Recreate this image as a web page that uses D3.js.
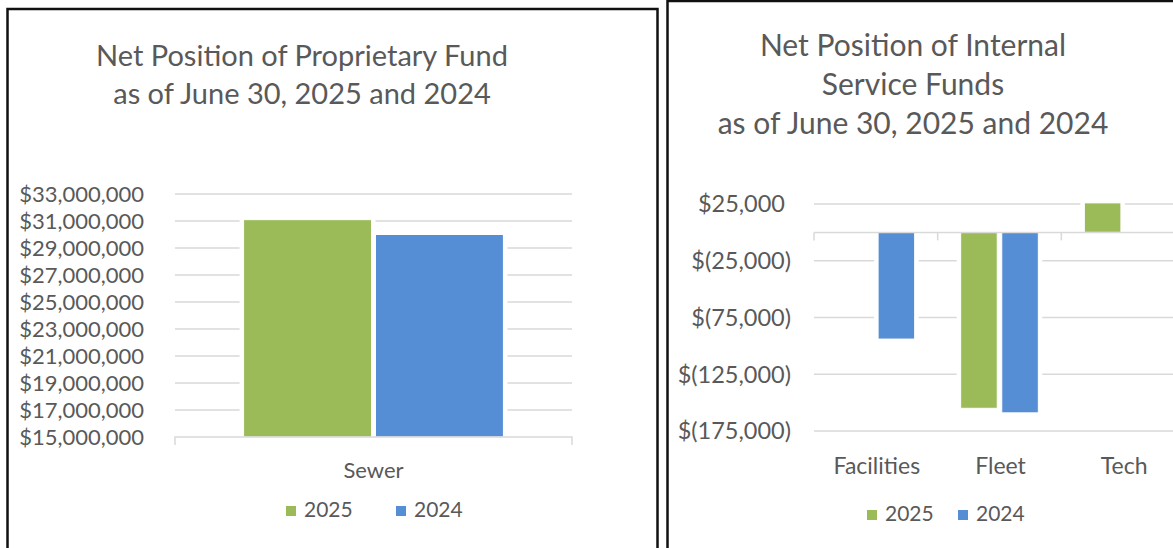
<!DOCTYPE html>
<html>
<head>
<meta charset="utf-8">
<script src="https://cdn.jsdelivr.net/npm/d3@7"></script>
<style>
  body { margin: 0; background: #fff; }
  svg { display: block; }
  text { font-family: Lato, "Open Sans", sans-serif; fill: #595959; }
  .grid { stroke: #d9d9d9; stroke-width: 1.5; }
  .axis-line { stroke: #d9d9d9; stroke-width: 1.5; fill: none; }
</style>
</head>
<body>
<div id="chart"></div>
<script>
/* DATA */
var seriesNames = ["2025", "2024"];

var sewerCategories = ["Sewer"];
var sewer2025 = [31100000];
var sewer2024 = [30000000];
var sewerTicks = [15000000, 17000000, 19000000, 21000000, 23000000, 25000000, 27000000, 29000000, 31000000, 33000000];

var isfCategories = ["Facilities", "Fleet", "Tech"];
var isf2025 = [0, -155000, 26000];
var isf2024 = [-94000, -159000, 0];
var isfTicks = [25000, -25000, -75000, -125000, -175000];

var colors = {"2025": "#9bbb59", "2024": "#558ed5"};

var svg = d3.select("#chart").append("svg")
    .attr("width", 1173)
    .attr("height", 548);

// chart borders
svg.append("rect")
    .attr("x", 7.5).attr("y", 9).attr("width", 650).attr("height", 560)
    .attr("fill", "none").attr("stroke", "#111").attr("stroke-width", 2.5);
svg.append("rect")
    .attr("x", 667.5).attr("y", 1).attr("width", 560).attr("height", 570)
    .attr("fill", "none").attr("stroke", "#111").attr("stroke-width", 2.5);

function rows(cats, a, b){
  return cats.map(function(c, i){
    return {cat: c, values: [{key: "2025", v: a[i]}, {key: "2024", v: b[i]}]};
  });
}

function title(lines, cx, baselines, size){
  lines.forEach(function(t, i){
    svg.append("text")
        .attr("x", cx).attr("y", baselines[i])
        .attr("text-anchor", "middle")
        .style("font-size", size + "px")
        .text(t);
  });
}

function legend(items){
  items.forEach(function(d){
    svg.append("rect")
        .attr("x", d.x).attr("y", d.y - 11)
        .attr("width", 10).attr("height", 10)
        .attr("fill", colors[d.key]);
    svg.append("text")
        .attr("x", d.x + 18).attr("y", d.y)
        .style("font-size", "21px")
        .text(d.key);
  });
}

function bars(g, data, x0, x1, y, base){
  var grp = g.selectAll(".cat")
      .data(data)
    .enter().append("g")
      .attr("class", "cat")
      .attr("transform", function(d){ return "translate(" + x0(d.cat) + ",0)"; });

  // white halo that breaks the gridlines next to the bars
  grp.selectAll(".halo")
      .data(function(d){ return d.values.filter(function(v){ return v.v !== 0; }); })
    .enter().append("rect")
      .attr("class", "halo")
      .attr("x", function(d){ return x1(d.key) - 4; })
      .attr("width", x1.bandwidth() + 8)
      .attr("y", function(d){ return Math.min(y(d.v), y(base)); })
      .attr("height", function(d){ return Math.abs(y(d.v) - y(base)); })
      .attr("fill", "#fff");

  grp.selectAll(".bar")
      .data(function(d){ return d.values.filter(function(v){ return v.v !== 0; }); })
    .enter().append("rect")
      .attr("class", "bar")
      .attr("x", function(d){ return x1(d.key); })
      .attr("width", x1.bandwidth())
      .attr("y", function(d){ return Math.min(y(d.v), y(base)); })
      .attr("height", function(d){ return Math.abs(y(d.v) - y(base)); })
      .attr("fill", function(d){ return colors[d.key]; })
      .attr("stroke", "#fff")
      .attr("stroke-width", 1);
}

/* LEFT CHART: proprietary fund */
(function(){
  var g = svg.append("g");
  var y = d3.scaleLinear().domain([15000000, 33000000]).range([437, 194]);
  var x0 = d3.scaleBand().domain(sewerCategories).range([175, 572]);
  var x1 = d3.scaleBand().domain(seriesNames).range([0, x0.bandwidth()])
      .paddingInner(0.03).paddingOuter(0.52);
  var fmt = d3.format("$,.0f");

  title(["Net Position of Proprietary Fund", "as of June 30, 2025  and 2024"], 302, [66, 104], 29);

  g.selectAll(".grid")
      .data(sewerTicks.filter(function(t){ return t !== 15000000; }))
    .enter().append("line")
      .attr("class", "grid")
      .attr("x1", 175).attr("x2", 572)
      .attr("y1", function(d){ return y(d); })
      .attr("y2", function(d){ return y(d); });

  g.selectAll(".ylab")
      .data(sewerTicks)
    .enter().append("text")
      .attr("x", 144)
      .attr("y", function(d){ return y(d); })
      .attr("dy", "0.36em")
      .attr("text-anchor", "end")
      .style("font-size", "22px")
      .text(function(d){ return fmt(d); });

  bars(g, rows(sewerCategories, sewer2025, sewer2024), x0, x1, y, 15000000);

  // category axis with end ticks
  g.append("path")
      .attr("class", "axis-line")
      .attr("d", "M175," + (y(15000000) + 8) + "V" + y(15000000) + "H572V" + (y(15000000) + 8));

  g.selectAll(".xlab")
      .data(sewerCategories)
    .enter().append("text")
      .attr("x", function(d){ return x0(d) + x0.bandwidth() / 2; })
      .attr("y", 478)
      .attr("text-anchor", "middle")
      .style("font-size", "22px")
      .text(function(d){ return d; });

  legend([{key: "2025", x: 286, y: 517}, {key: "2024", x: 396, y: 517}]);
})();

/* RIGHT CHART: internal service funds */
(function(){
  var g = svg.append("g");
  var y = d3.scaleLinear().domain([-175000, 25000]).range([431, 204]);
  var x0 = d3.scaleBand().domain(isfCategories).range([814, 1185]);
  var x1 = d3.scaleBand().domain(seriesNames).range([0, x0.bandwidth()])
      .paddingInner(0.11).paddingOuter(0.56);
  var fmt = function(v){
    var s = d3.format(",.0f")(Math.abs(v));
    return v < 0 ? "$(" + s + ")" : "$" + s;
  };

  title(["Net Position of Internal", "Service Funds", "as of June 30, 2025  and 2024"], 913, [56, 95, 134], 30);

  g.selectAll(".grid")
      .data(isfTicks)
    .enter().append("line")
      .attr("class", "grid")
      .attr("x1", 814).attr("x2", 1185)
      .attr("y1", function(d){ return y(d); })
      .attr("y2", function(d){ return y(d); });

  g.selectAll(".ylab")
      .data(isfTicks)
    .enter().append("text")
      .attr("x", 791)
      .attr("dx", function(d){ return d < 0 ? 0 : -6; })
      .attr("y", function(d){ return y(d); })
      .attr("dy", "0.36em")
      .attr("text-anchor", "end")
      .style("font-size", "23.5px")
      .text(function(d){ return fmt(d); });

  bars(g, rows(isfCategories, isf2025, isf2024), x0, x1, y, 0);

  // zero line as category axis, ticks between categories
  var y0 = y(0);
  g.append("line")
      .attr("class", "axis-line")
      .attr("x1", 814).attr("x2", 1185)
      .attr("y1", y0).attr("y2", y0);
  g.selectAll(".tick")
      .data(isfCategories.map(function(c){ return x0(c); }).concat([1185]))
    .enter().append("line")
      .attr("class", "axis-line")
      .attr("x1", function(d){ return d; }).attr("x2", function(d){ return d; })
      .attr("y1", y0).attr("y2", y0 + 8);

  g.selectAll(".xlab")
      .data(isfCategories)
    .enter().append("text")
      .attr("x", function(d){ return x0(d) + x0.bandwidth() / 2 + 1; })
      .attr("y", 474)
      .attr("text-anchor", "middle")
      .style("font-size", "23px")
      .text(function(d){ return d; });

  legend([{key: "2025", x: 867, y: 521}, {key: "2024", x: 958, y: 521}]);
})();
</script>
</body>
</html>
